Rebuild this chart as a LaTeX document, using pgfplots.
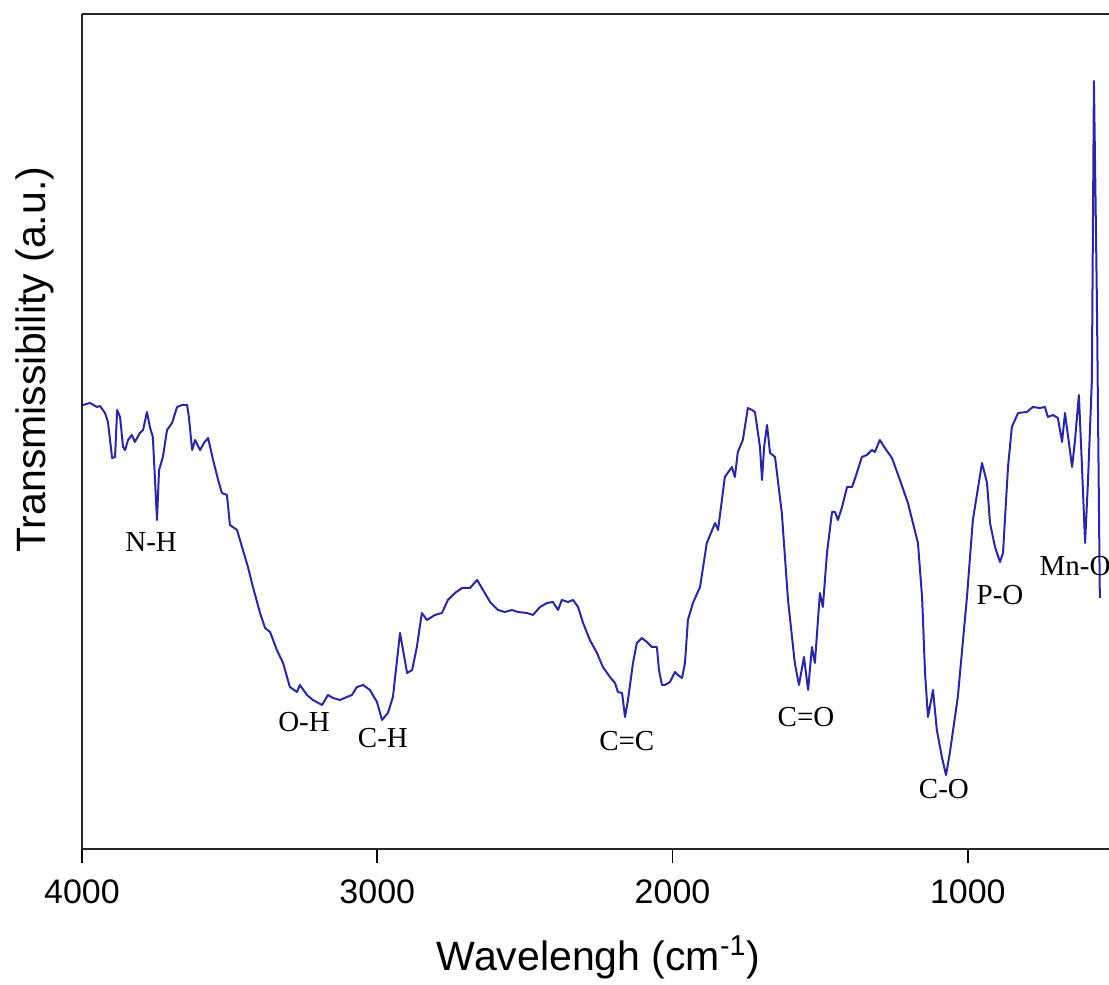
\documentclass[border=0pt]{standalone}
\usepackage{pgfplots}
\pgfplotsset{compat=1.18}
\usepackage{pgfplotstable}
\usepackage{fontspec}
\setmainfont{Liberation Sans}
\newfontfamily\seriffont{Liberation Serif}
\definecolor{specblue}{RGB}{40,40,165}

% FTIR spectrum: wavenumber (cm^-1) vs. transmission (arbitrary units)
\pgfplotstableread{
wn    T
3997  444
3973  446
3949  442
3939  443
3922  436
3912  427
3898  391
3888  392
3881  439
3871  432
3861  402
3854  399
3844  409
3831  414
3821  407
3804  416
3793  419
3780  437
3770  422
3760  412
3746  329
3739  379
3726  392
3712  419
3695  426
3678  442
3661  444
3644  444
3638  432
3627  399
3617  409
3600  399
3587  406
3573  411
3556  389
3539  369
3526  356
3509  354
3499  324
3475  319
3455  299
3438  282
3421  262
3397  236
3380  221
3363  217
3340  199
3319  186
3296  162
3272  157
3262  164
3238  154
3218  149
3187  144
3167  154
3150  151
3126  149
3103  152
3086  154
3069  162
3048  164
3025  159
3001  147
2984  129
2964  136
2947  152
2923  216
2899  176
2882  179
2866  202
2849  236
2832  229
2805  234
2781  236
2761  249
2737  256
2713  261
2686  261
2662  269
2642  259
2618  247
2591  239
2568  237
2544  239
2524  237
2493  236
2473  234
2449  242
2425  246
2405  247
2388  239
2375  249
2354  247
2337  249
2320  242
2303  226
2280  209
2256  196
2236  182
2212  172
2195  166
2185  157
2171  156
2161  132
2151  149
2134  186
2121  206
2104  211
2087  207
2070  202
2053  202
2046  179
2036  164
2026  164
2009  167
1992  177
1982  174
1968  171
1958  186
1948  229
1931  246
1907  262
1884  306
1856  326
1846  319
1823  372
1799  382
1789  372
1779  397
1762  409
1745  441
1731  439
1721  437
1704  402
1697  369
1690  402
1680  424
1670  396
1653  392
1630  336
1609  249
1586  186
1572  164
1555  192
1541  159
1528  202
1518  186
1501  256
1491  242
1477  296
1460  337
1450  337
1440  329
1426  342
1409  362
1392  362
1376  376
1359  392
1342  394
1325  399
1315  397
1298  409
1281  401
1257  391
1230  369
1203  346
1169  306
1155  252
1145  176
1135  132
1118  159
1105  119
1088   92
1074   74
1061   96
1034  152
1003  252
 983  329
 952  386
 935  366
 925  326
 908  302
 891  287
 881  296
 864  382
 851  422
 830  436
 800  437
 780  442
 756  441
 739  442
 729  432
 712  434
 695  431
 681  407
 671  436
 647  382
 637  409
 624  454
 614  386
 603  306
 593  369
 580  469
 573  768
 563  549
 553  251
}\spectrum

\begin{document}
\begin{tikzpicture}
\path[use as bounding box] (0,0) rectangle (554.5pt,492.5pt);
\begin{axis}[
  at={(41pt,68pt)}, anchor=south west,
  scale only axis,
  width=513.5pt, height=417.5pt,
  x dir=reverse,
  xmin=522, xmax=4000,
  ymin=0, ymax=835,
  axis x line*=box,
  axis y line*=left,
  axis line style={line width=1.2pt, black!85},
  xtick={1000,2000,3000,4000},
  xtick pos=left,
  xtick align=outside,
  major tick length=7pt,
  every tick/.style={line width=0.8pt, black},
  ytick=\empty,
  /pgf/number format/assume math mode=true,
  /pgf/number format/1000 sep={},
  xticklabel style={font=\fontsize{17}{20}\selectfont, inner sep=0pt, anchor=north, yshift=-8pt},
  xlabel={Wavelengh (cm\textsuperscript{-1})},
  xlabel style={font=\fontsize{20.5}{24}\selectfont, at={(axis description cs:0.503,0)}, anchor=center, yshift=-54pt},
  ylabel={Transmissibility (a.u.)},
  % the label is rotated, so its own y direction points to the left
  ylabel style={font=\fontsize{20.5}{24}\selectfont, at={(axis description cs:0,0.586)}, anchor=center, yshift=23.5pt},
  clip=false,
]
\addplot[color=specblue, line width=1pt, line join=round, mark=none] table[x=wn, y=T] {\spectrum};

\begin{scope}[every node/.style={font=\seriffont\fontsize{14.5}{17}\selectfont, inner sep=0pt, anchor=center}]
\node at (axis cs:3766,307) {N-H};
\node at (axis cs:3248,127) {O-H};
\node at (axis cs:2981,111) {C-H};
\node at (axis cs:2155,108) {C=C};
\node at (axis cs:1548,132) {C=O};
\node at (axis cs:1081,60) {C-O};
\node at (axis cs:891,254) {P-O};
\node at (axis cs:637,283) {Mn-O};
\end{scope}
\end{axis}
\end{tikzpicture}
\end{document}
